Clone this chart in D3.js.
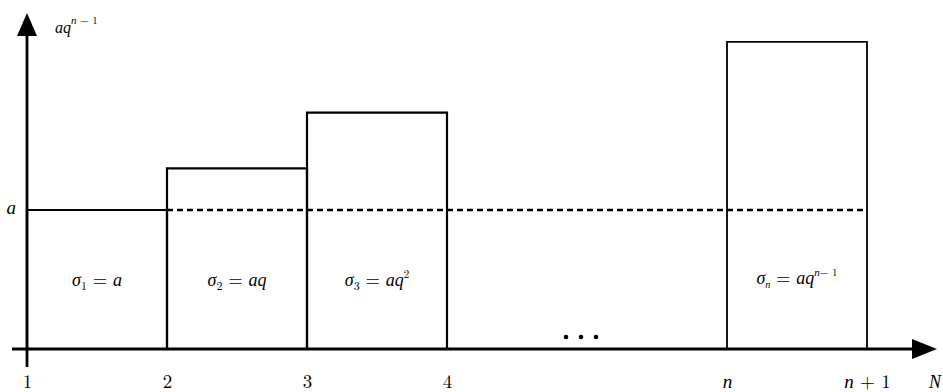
<!DOCTYPE html>
<html><head><meta charset="utf-8">
<script src="https://cdn.jsdelivr.net/npm/d3@7"></script>
<style>body{margin:0;background:#fff;}</style></head>
<body><svg id="c" width="943" height="392"></svg>
<script>
// ---- data ----
const tickPositions = [1, 2, 3, 4, 6, 7];
const tickLabels = ["1", "2", "3", "4", "n", "n+1"];
const barStarts = [1, 2, 3, 6];
const barValues = [1, 1.3, 1.7, 2.21];
const barSubs = ["1", "2", "3", "n"];
const barRhs = [["a", ""], ["aq", ""], ["aq", "2"], ["aq", "n\u2212 1"]];
const refValue = 1;
const yAxisLabel = ["aq", "n \u2212 1"];
const xAxisLabel = "N";

const LM = '"Latin Modern Math","Liberation Serif",serif';
const IT = '"Liberation Serif","DejaVu Serif",serif';

// renders a mixed string: letters italic (IT), digits/operators upright (LM)
function mathRun(sel, str, size, dy) {
  const parts = str.match(/[A-Za-z\u03C3]+|[^A-Za-z\u03C3]+/g) || [];
  parts.forEach((p, k) => {
    const letters = /[A-Za-z\u03C3]/.test(p);
    const ts = sel.append("tspan")
      .attr("font-family", letters ? IT : LM)
      .attr("font-style", letters ? "italic" : "normal")
      .attr("font-size", size)
      .text(p);
    if (k === 0 && dy) ts.attr("dy", dy);
  });
}

// ---- scales ----
const svg = d3.select("#c");
const x = d3.scaleLinear().domain([1, 7]).range([27, 867]);
const y = d3.scaleLinear().domain([0, 1]).range([349, 210]);

// bars
const bars = barStarts.map((s, i) => ({s, v: barValues[i], i}));
svg.selectAll("path.bar").data(bars).join("path")
  .attr("class", "bar")
  .attr("d", d => {
    const x0 = x(d.s), x1 = x(d.s + 1), y0 = y(0), y1 = y(d.v);
    return `M${x0},${y0}V${y1}H${x1}V${y0}`;
  })
  .attr("fill", "none").attr("stroke", "#000")
  .attr("stroke-width", d => d.i === 3 ? 1.8 : 2.2);

// dashed reference line
svg.append("line")
  .attr("x1", x(2)).attr("x2", x(7))
  .attr("y1", y(refValue)).attr("y2", y(refValue))
  .attr("stroke", "#000").attr("stroke-width", 2.4)
  .attr("stroke-dasharray", "6,4");

// axis lines with arrows
svg.append("line").attr("x1", 12).attr("x2", 916)
  .attr("y1", y(0)).attr("y2", y(0)).attr("stroke", "#000").attr("stroke-width", 2.8);
svg.append("line").attr("x1", x(1)).attr("x2", x(1))
  .attr("y1", 367).attr("y2", 32).attr("stroke", "#000").attr("stroke-width", 2.8);
svg.append("path").attr("d", `M937,${y(0)}L912,${y(0)-10}L912,${y(0)+10}Z`).attr("fill", "#000");
svg.append("path").attr("d", `M${x(1)},13L${x(1)-10},36L${x(1)+10},36Z`).attr("fill", "#000");

// x axis labels
const xAxis = d3.axisBottom(x).tickValues(tickPositions)
  .tickFormat((d, i) => tickLabels[i]).tickSize(0).tickPadding(0);
const gx = svg.append("g").attr("transform", `translate(0,${y(0)})`).call(xAxis);
gx.select(".domain").remove();
gx.selectAll("text").attr("dy", null).attr("y", 39)
  .text(null)
  .each(function(d, i){
    const lab = tickLabels[i].replace("+", " + ");
    mathRun(d3.select(this), lab, 19);
  });
const nl = svg.append("text").attr("x", 929).attr("y", y(0) + 39);
mathRun(nl, xAxisLabel, 18);

// y axis label
const yAxis = d3.axisLeft(y).tickValues([refValue]).tickFormat(() => "a").tickSize(0).tickPadding(11);
const gy = svg.append("g").attr("transform", `translate(${x(1)},0)`).call(yAxis);
gy.select(".domain").remove();
gy.selectAll("text").text(null).each(function(){ mathRun(d3.select(this), "a", 19); });

const topLabel = svg.append("text").attr("x", 55).attr("y", 33);
mathRun(topLabel, yAxisLabel[0], 16);
mathRun(topLabel, yAxisLabel[1], 11, -9);

// bar labels
bars.forEach(d => {
  const t = svg.append("text")
    .attr("x", (x(d.s) + x(d.s + 1)) / 2)
    .attr("y", d.i === 3 ? 284 : 286)
    .attr("text-anchor", "middle");
  mathRun(t, "\u03C3", 18);
  mathRun(t, barSubs[d.i], d.i === 3 ? 10 : 12, 4);
  t.append("tspan").attr("dy", -4).attr("font-family", LM).attr("font-size", 18).text(" = ");
  mathRun(t, barRhs[d.i][0], 18);
  if (barRhs[d.i][1]) mathRun(t, barRhs[d.i][1], 11, -8);
});

// ellipsis dots
svg.selectAll("circle.dot").data([0, 1, 2]).join("circle")
  .attr("cx", d => x(4.85) + d * 15).attr("cy", 337).attr("r", 2.3).attr("fill", "#000");
</script></body></html>
